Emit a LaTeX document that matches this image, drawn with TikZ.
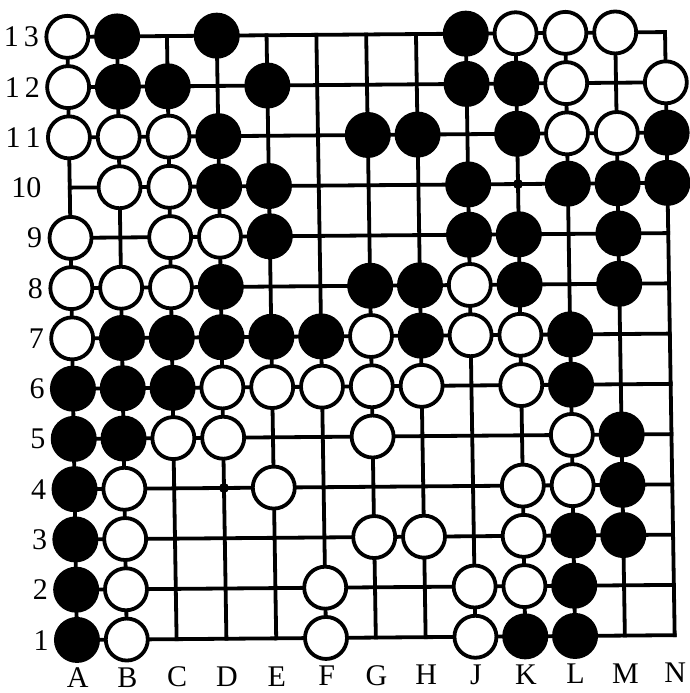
\documentclass[tikz,border=0pt]{standalone}
\usepackage{fontspec}
\setmainfont{Liberation Serif}
\begin{document}
\begin{tikzpicture}[x=0.5pt,y=-0.5pt,
  gridline/.style={line width=1.9pt,line cap=rect},
  bstone/.style={circle,fill=black,minimum size=23pt,inner sep=0pt},
  wstone/.style={circle,draw=black,fill=white,line width=1.9pt,minimum size=21pt,inner sep=0pt},
  hoshi/.style={circle,fill=black,minimum size=5pt,inner sep=0pt},
  lbl/.style={font=\fontsize{15}{15}\selectfont,inner sep=0pt}]
\useasboundingbox (0,0) rectangle (690,693);
\begin{scope}[shift={(371,336)},cm={1,0.008,-0.016,1,(0,0)}]
  % grid points
  \foreach \l [count=\c from 0] in {A,B,C,D,E,F,G,H,J,K,L,M,N}
    \foreach \r in {1,...,13}
      \coordinate (\l\r) at ({(\c-6)*49.8},{(7-\r)*50.25});
  % grid lines
  \foreach \l in {A,B,C,D,E,F,G,H,J,K,L,M,N}
    \draw[gridline] (\l1) -- (\l13);
  \foreach \r in {1,...,13}
    \draw[gridline] (A\r) -- (N\r);
  % star points
  \node[hoshi] (hD4) at (D4) {};
  \node[hoshi] (hK10) at (K10) {};
  % black stones
  \foreach \p in {B13,D13,J13,
                  B12,C12,E12,J12,K12,
                  D11,G11,H11,K11,N11,
                  D10,E10,J10,L10,M10,N10,
                  E9,J9,K9,M9,
                  D8,G8,H8,K8,M8,
                  B7,C7,D7,E7,F7,H7,L7,
                  A6,B6,C6,L6,
                  A5,B5,M5,
                  A4,M4,
                  A3,L3,M3,
                  A2,L2,
                  A1,K1,L1}
    \node[bstone] (b\p) at (\p) {};
  % white stones
  \foreach \p in {A13,K13,L13,M13,
                  A12,L12,N12,
                  A11,B11,C11,L11,M11,
                  B10,C10,
                  A9,C9,D9,
                  A8,B8,C8,J8,
                  A7,G7,J7,K7,
                  D6,E6,F6,G6,H6,K6,
                  C5,D5,G5,L5,
                  B4,E4,K4,L4,
                  B3,G3,H3,K3,
                  B2,F2,J2,K2,
                  B1,F1,J1}
    \node[wstone] (w\p) at (\p) {};
  % row labels
  \foreach \r/\t in {13/{1\kern2.5pt 3},12/{1\kern2.5pt 2},11/{1\kern2.5pt 1},10/{10},
                     9/9,8/8,7/7,6/6,5/5,4/4,3/3,2/2,1/1}
    \node[lbl,anchor=east] (r\r) at ({-6*49.8-28},{(7-\r)*50.25}) {\t};
  % column labels
  \foreach \l [count=\c from 0] in {A,B,C,D,E,F,G,H,J,K,L,M,N}
    \node[lbl] (c\l) at ({(\c-6)*49.8},{6*50.25+38}) {\l};
\end{scope}
\end{tikzpicture}
\end{document}
